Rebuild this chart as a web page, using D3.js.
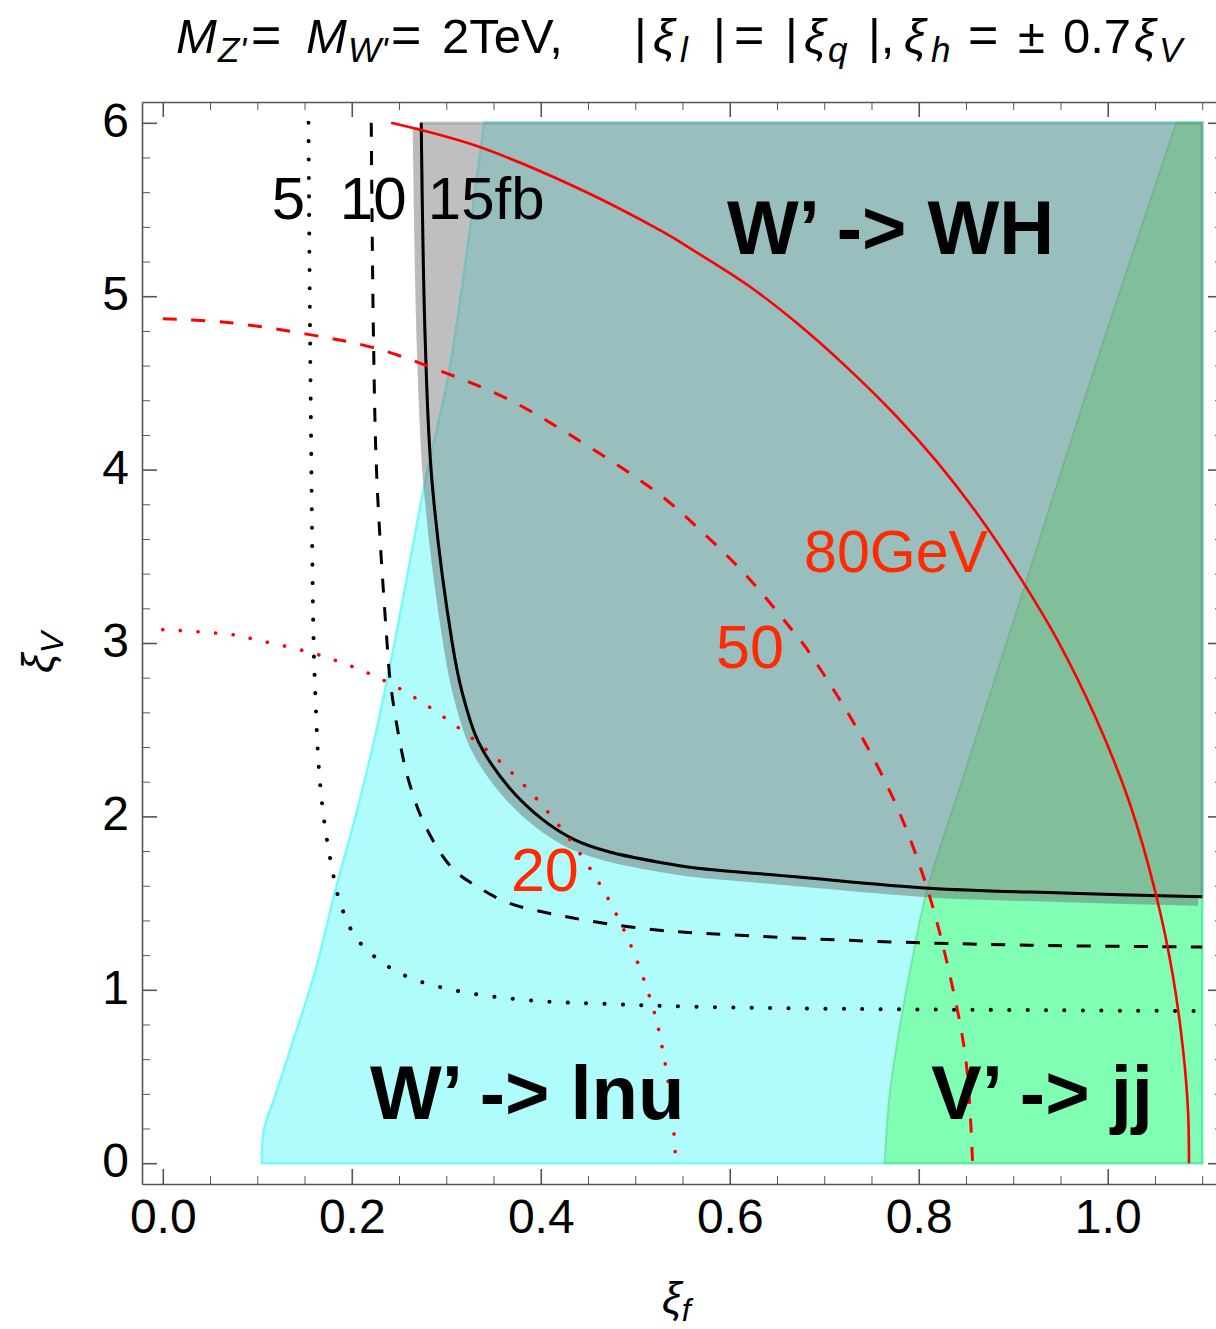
<!DOCTYPE html>
<html>
<head>
  <title>W' / Z' limits in the xi_f - xi_V plane</title>
  <script src="https://d3js.org/d3.v7.min.js"></script>
  <style>
    body { margin: 0; background: #fff; }
    svg { display: block; font-family: "Liberation Sans", Arial, Helvetica, sans-serif; }
  </style>
</head>
<body>

<div id="chart"></div>

<script>
  // boundaries, points are [xi_f, xi_V]
  const lnuEdge = [[0.105, 0], [0.107, 0.19], [0.119, 0.39], [0.137, 0.69], [0.161, 1.10],
    [0.182, 1.56], [0.204, 2.0], [0.225, 2.47], [0.246, 3.02], [0.278, 3.94],
    [0.3025, 4.55], [0.327, 5.46], [0.34, 6.0]];
  const jjEdge = [[0.764, 0], [0.769, 0.385], [0.780, 0.79], [0.794, 1.2], [0.808, 1.56],
    [0.8455, 2.2], [0.89, 2.95], [0.981, 4.5], [1.0725, 6]];
  const wh15 = [[0.2735, 6], [0.2777, 4.75], [0.2848, 3.94], [0.306, 3.01], [0.3166, 2.72],
    [0.334, 2.43], [0.366, 2.17], [0.401, 1.986], [0.436, 1.865], [0.472, 1.796],
    [0.528, 1.733], [0.564, 1.703], [0.670, 1.652], [0.811, 1.586], [0.9525, 1.558], [1.1, 1.537]];
  const wh10 = [[0.2206, 6], [0.223, 4.75], [0.2266, 3.94], [0.2372, 3.01], [0.2407, 2.78],
    [0.2495, 2.47], [0.260, 2.21], [0.2777, 1.946], [0.306, 1.703], [0.3307, 1.602],
    [0.366, 1.501], [0.419, 1.43], [0.472, 1.38], [0.528, 1.342], [0.564, 1.328],
    [0.741, 1.282], [0.917, 1.257], [1.1, 1.247]];
  const wh5 = [[0.1542, 6], [0.1553, 5.15], [0.157, 4.14], [0.1595, 3.03], [0.1613, 2.72],
    [0.1648, 2.31], [0.170, 2.007], [0.179, 1.703], [0.1877, 1.501], [0.2036, 1.308],
    [0.230, 1.166], [0.2636, 1.065], [0.320, 0.985], [0.394, 0.937], [0.472, 0.918],
    [0.564, 0.902], [0.741, 0.889], [0.917, 0.883], [1.1, 0.877]];
  const width80 = [[0.2417, 6.0], [0.33, 5.87], [0.4366, 5.63], [0.528, 5.375], [0.564, 5.256],
    [0.62, 5.06], [0.67, 4.85], [0.72, 4.61], [0.776, 4.31], [0.82, 4.04], [0.864, 3.73],
    [0.9, 3.44], [0.9455, 3.03], [0.988, 2.56], [1.023, 2.08], [1.051, 1.55], [1.069, 1.08],
    [1.080, 0.64], [1.085, 0.3], [1.086, 0]];
  const width50 = [[0, 4.87], [0.066, 4.85], [0.154, 4.78], [0.225, 4.70], [0.295, 4.567],
    [0.366, 4.404], [0.437, 4.18], [0.523, 3.868], [0.564, 3.675], [0.617, 3.392],
    [0.670, 3.047], [0.681, 2.97], [0.734, 2.513], [0.776, 2.067], [0.808, 1.602],
    [0.8325, 1.095], [0.850, 0.589], [0.857, 0]];
  const width20 = [[0, 3.077], [0.0766, 3.046], [0.0977, 3.02], [0.170, 2.923], [0.2407, 2.766],
    [0.305, 2.543], [0.364, 2.28], [0.415, 1.976], [0.4595, 1.636], [0.494, 1.273],
    [0.5195, 0.883], [0.528, 0.681], [0.538, 0.35], [0.543, 0]];

  const xiFMax = 1.1;
  const xiVMax = 6;
  const xMajor = [0, 0.2, 0.4, 0.6, 0.8, 1.0];
  const xTickLabels = ["0.0", "0.2", "0.4", "0.6", "0.8", "1.0"];
  const yMajor = [0, 1, 2, 3, 4, 5, 6];
  const yTickLabels = ["0", "1", "2", "3", "4", "5", "6"];

  const width = 1216;
  const height = 1329;

  const svg = d3.select("#chart")
    .append("svg")
    .attr("width", width)
    .attr("height", height);

  // plot range with the 2% padding Mathematica adds
  const x = d3.scaleLinear().domain([-0.022, 1.122]).range([142, 1223]);
  const y = d3.scaleLinear().domain([-0.12, 6.12]).range([1184, 102]);

  const line = d3.line()
    .x(d => x(d[0]))
    .y(d => y(d[1]))
    .curve(d3.curveCatmullRom);

  const corner = (a, b) => `L${x(a)},${y(b)}`;

  // W' -> l nu excluded region
  svg.append("path")
    .attr("d", line(lnuEdge) + corner(xiFMax, xiVMax) + corner(xiFMax, 0) + "Z")
    .attr("fill", "rgb(176,252,252)")
    .attr("stroke", "rgb(120,250,250)")
    .attr("stroke-width", 2.5);

  // V' -> jj excluded region
  svg.append("path")
    .attr("d", line(jjEdge) + corner(xiFMax, xiVMax) + corner(xiFMax, 0) + "Z")
    .attr("fill", "rgba(80,255,108,0.5)")
    .attr("stroke", "rgba(70,210,100,0.45)")
    .attr("stroke-width", 2);

  // W' -> WH excluded region
  svg.append("path")
    .attr("d", line(wh15) + corner(xiFMax, xiVMax) + "Z")
    .attr("fill", "rgba(128,128,128,0.5)")
    .attr("stroke", "rgba(90,90,90,0.25)")
    .attr("stroke-width", 3);

  // darker edge band along the 15 fb contour
  svg.append("path")
    .attr("d", line(wh15))
    .attr("transform", "translate(-4,4.5)")
    .attr("fill", "none")
    .attr("stroke", "rgba(105,105,105,0.45)")
    .attr("stroke-width", 9);

  const curves = [
    { pts: wh5, color: "#000", dash: "0.1 18.3", cap: "round", w: 4 },
    { pts: wh10, color: "#000", dash: "14 14.5", cap: "butt", w: 3 },
    { pts: wh15, color: "#000", dash: null, cap: "butt", w: 3 },
    { pts: width20, color: "#ff0000", dash: "0.1 17.5", cap: "round", w: 3.6 },
    { pts: width50, color: "#ff0000", dash: "14 14.5", cap: "butt", w: 3 },
    { pts: width80, color: "#ff0000", dash: null, cap: "butt", w: 2.6 }
  ];

  svg.selectAll(".contour")
    .data(curves)
    .enter()
    .append("path")
    .attr("class", "contour")
    .attr("d", d => line(d.pts))
    .attr("fill", "none")
    .attr("stroke", d => d.color)
    .attr("stroke-width", d => d.w)
    .attr("stroke-linecap", d => d.cap)
    .attr("stroke-dasharray", d => d.dash);

  // labels inside the plot
  const label = (txt, xf, xv, size, color, weight) => svg.append("text")
    .attr("x", x(xf))
    .attr("y", y(xv))
    .attr("font-size", size)
    .attr("font-weight", weight || "normal")
    .attr("fill", color)
    .text(txt);

  label("5", 0.1153, 5.447, 60, "#000");
  label("10", 0.1873, 5.447, 60, "#000");
  label("15fb", 0.2805, 5.447, 60, "#000");
  label("W\u2019 -> WH", 0.5971, 5.245, 76, "#000", "bold");
  label("W\u2019 -> lnu", 0.2192, 0.2552, 76, "#000", "bold");
  label("V\u2019 -> jj", 0.8131, 0.2552, 76, "#000", "bold");
  label("80GeV", 0.6787, 3.412, 59, "#ff2a00");
  label("50", 0.5855, 2.858, 61, "#ff2a00");
  label("20", 0.3684, 1.570, 61, "#ff2a00");

  // frame with ticks
  const axisColor = "#555";
  const xMinor = d3.range(0.05, 1.101, 0.05).filter(v => Math.abs(v * 5 - Math.round(v * 5)) > 1e-6);
  const yMinor = d3.range(0.2, 5.9, 0.2).filter(v => Math.abs(v - Math.round(v)) > 1e-6);

  function frameSide(axisFn, scale, major, minor, pos, labels) {
    const gMajor = svg.append("g")
      .attr("transform", pos)
      .attr("color", axisColor)
      .call(axisFn(scale).tickValues(major).tickSizeInner(-15).tickSizeOuter(0)
        .tickPadding(labels ? (axisFn === d3.axisBottom ? 15 : 13) : 0)
        .tickFormat((d, i) => labels ? labels[i] : ""));
    svg.append("g")
      .attr("transform", pos)
      .attr("color", axisColor)
      .call(axisFn(scale).tickValues(minor).tickSizeInner(-8).tickSizeOuter(0).tickFormat(""))
      .select(".domain").remove();
    gMajor.selectAll("path, line").attr("stroke-width", 1.6);
    gMajor.selectAll("text")
      .attr("fill", "#000")
      .attr("font-size", 48)
      .attr("font-family", "'Liberation Sans', Arial, Helvetica, sans-serif");
    return gMajor;
  }

  frameSide(d3.axisBottom, x, xMajor, xMinor, "translate(0,1184)", xTickLabels);
  frameSide(d3.axisTop, x, xMajor, xMinor, "translate(0,102)", null);
  frameSide(d3.axisLeft, y, yMajor, yMinor, "translate(142,0)", yTickLabels)
    .selectAll("text").attr("dy", "0.28em");
  frameSide(d3.axisRight, y, yMajor, yMinor, "translate(1223,0)", null);

  // axis titles
  const xTitle = svg.append("text")
    .attr("x", 662)
    .attr("y", 1313)
    .attr("font-size", 44)
    .attr("font-style", "italic");
  xTitle.append("tspan").text("\u03be");
  xTitle.append("tspan").attr("font-size", 32).attr("dy", 8).text("f");

  const yTitle = svg.append("text")
    .attr("transform", "translate(53,673) rotate(-90)")
    .attr("font-size", 44)
    .attr("font-style", "italic");
  yTitle.append("tspan").text("\u03be");
  yTitle.append("tspan").attr("font-size", 32).attr("dy", 10).text("V");

  // title, built piece by piece: [text, x, italic, subscript]
  const titlePieces = [
    ["M", 176, true, false], ["Z'", 218, true, true], ["=", 251, false, false],
    ["M", 306, true, false], ["W'", 348, true, true], ["=", 391, false, false],
    ["2TeV,", 442, false, false],
    ["|", 634, false, false], ["\u03be", 653, true, false], ["l", 680, true, true],
    ["|", 713, false, false], ["=", 734, false, false], ["|", 785, false, false],
    ["\u03be", 804, true, false], ["q", 828, true, true], ["|,", 868, false, false],
    ["\u03be", 904, true, false], ["h", 931, true, true], ["=", 968, false, false],
    ["\u00b1", 1018, false, false], ["0.7", 1063, false, false],
    ["\u03be", 1134, true, false], ["V", 1159, true, true]
  ];
  svg.selectAll(".title-piece")
    .data(titlePieces)
    .enter()
    .append("text")
    .attr("class", "title-piece")
    .attr("x", d => d[1])
    .attr("y", d => d[3] ? 62 : 53)
    .attr("font-size", d => d[3] ? 35 : (d[0] === "=" ? 52 : 49))
    .attr("font-style", d => d[2] ? "italic" : "normal")
    .text(d => d[0]);
</script>

</body>
</html>
